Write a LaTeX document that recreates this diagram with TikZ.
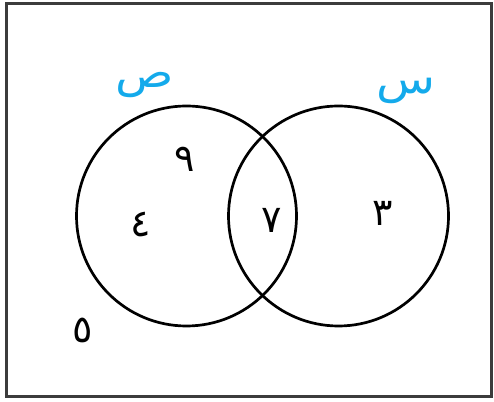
\documentclass[tikz,border=0pt]{standalone}
\usepackage{fontspec}
\newfontfamily\arabicfont[Script=Arabic]{DejaVu Sans}
\TeXXeTstate=1
\usepackage{tikz}
\definecolor{setblue}{RGB}{20,170,235}
\definecolor{framegray}{RGB}{60,60,60}

\begin{document}
\begin{tikzpicture}[x=1pt,y=1pt,num/.style={font=\arabicfont\fontsize{38}{42}\selectfont},setname/.style={font=\arabicfont\fontsize{42}{46}\selectfont,text=setblue,xscale=1.15}]
\useasboundingbox (0,0) rectangle (494,401);
\draw[framegray,line width=3pt] (6.5,4.5) rectangle (491,397);
\coordinate (cY) at (186.5,185);\coordinate (cX) at (338.5,185);
\draw[line width=2.7pt] (cY) circle (110);\draw[line width=2.7pt] (cX) circle (110);
\node[setname] (labY) at (145,316) {\beginR ص\endR};
\node[setname] (labX) at (406,310) {\beginR س\endR};
\node[num] (nine) at (185,242) {\beginR ٩\endR};
\node[num] (four) at (141,176) {\beginR ٤\endR};
\node[num] (seven) at (272,181) {\beginR ٧\endR};
\node[num] (three) at (383,188) {\beginR ٣\endR};
\node[num] (five) at (83,71) {\beginR ٥\endR};
\end{tikzpicture}
\end{document}
